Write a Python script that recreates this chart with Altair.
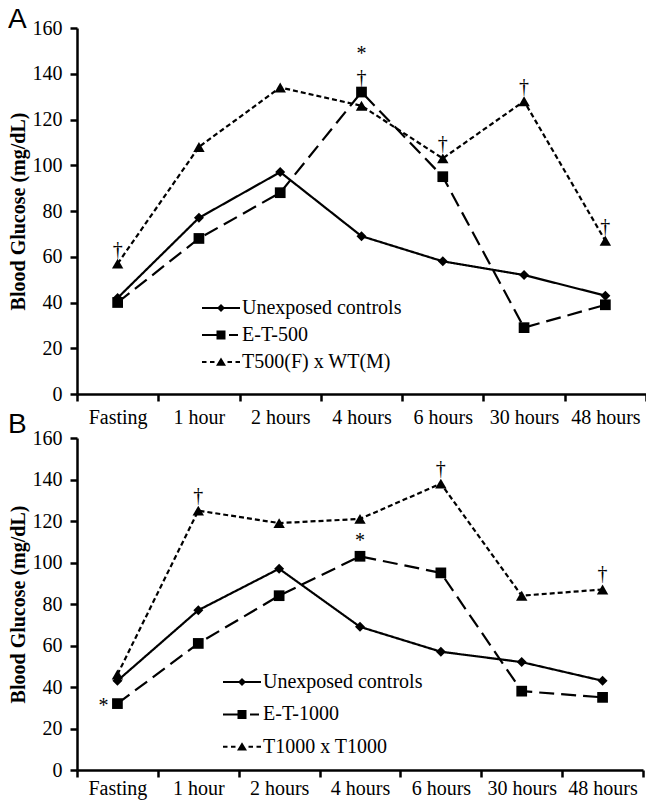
import altair as alt
import pandas as pd

times = ["Fasting", "1 hour", "2 hours", "4 hours", "6 hours", "30 hours", "48 hours"]

# Panel A
a_series = ["Unexposed controls", "E-T-500", "T500(F) x WT(M)"]
a_unexposed = [42, 77, 97, 69, 58, 52, 43]
a_et500 = [40, 68, 88, 132, 95, 29, 39]
a_t500 = [57, 108, 134, 126, 103, 128, 67]
a_dagger_times = ["Fasting", "4 hours", "6 hours", "30 hours", "48 hours"]
a_dagger_values = [57, 132, 103, 128, 67]
a_star_times = ["4 hours"]
a_star_values = [132]

# Panel B
b_series = ["Unexposed controls", "E-T-1000", "T1000 x T1000"]
b_unexposed = [43, 77, 97, 69, 57, 52, 43]
b_et1000 = [32, 61, 84, 103, 95, 38, 35]
b_t1000 = [46, 125, 119, 121, 138, 84, 87]
b_dagger_times = ["1 hour", "6 hours", "48 hours"]
b_dagger_values = [125, 138, 87]
b_star_top_times = ["4 hours"]
b_star_top_values = [103]
b_star_left_times = ["Fasting"]
b_star_left_values = [32]

y_ticks = [0, 20, 40, 60, 80, 100, 120, 140, 160]

SERIF = "Liberation Serif"
SANS = "Liberation Sans"

marker_shapes = ["diamond", "square", "triangle-up"]
marker_sizes = [100, 130, 150]
dashes = [[1, 0], [15, 7], [5, 3]]

# legend glyphs: line pieces drawn as thin filled bars + marker (fill only)
legend_paths = [
    "M-3.8,-0.2H3.8V0.2H-3.8Z M-0.8,0L0,-0.8L0.8,0L0,0.8Z",
    "M-3.8,-0.2H-0.9V0.2H-3.8Z M1.6,-0.2H3.4V0.2H1.6Z M-0.9,-0.9H0.9V0.9H-0.9Z",
    "M-3.8,-0.2H-2.9V0.2H-3.8Z M-2.2,-0.2H-1.3V0.2H-2.2Z M1.3,-0.2H2.2V0.2H1.3Z "
    "M2.9,-0.2H3.8V0.2H2.9Z M0,-0.9L1,0.75L-1,0.75Z",
]


def long_table(series, columns):
    rows = []
    for name, vals in zip(series, columns):
        for t, v in zip(times, vals):
            rows.append({"time": t, "series": name, "value": v})
    return pd.DataFrame(rows)


def annot(tlist, vlist, sym):
    return pd.DataFrame({"time": tlist, "value": vlist, "sym": [sym] * len(tlist)})


def panel(series, columns, annots, width, height, label, title_dy, leg_x, leg_y, leg_pad, xlab_pad):
    df = long_table(series, columns)
    x = alt.X(
        "time:N",
        sort=times,
        scale=alt.Scale(type="band", domain=times, paddingInner=0, paddingOuter=0),
        bandPosition=0.5,
        axis=alt.Axis(title=None, tickBand="extent", labelAngle=0, labelPadding=xlab_pad),
    )
    y = alt.Y(
        "value:Q",
        scale=alt.Scale(domain=[0, 160], nice=False),
        axis=alt.Axis(values=y_ticks, title="Blood Glucose (mg/dL)", labelPadding=8, titlePadding=4),
    )
    lines = alt.Chart(df).mark_line(color="black", strokeWidth=2.2).encode(
        x=x,
        y=y,
        strokeDash=alt.StrokeDash("series:N", scale=alt.Scale(domain=series, range=dashes), legend=None),
    )
    points = alt.Chart(df).mark_point(filled=True, color="black", opacity=1).encode(
        x=x,
        y=y,
        shape=alt.Shape("series:N", scale=alt.Scale(domain=series, range=marker_shapes), legend=None),
        size=alt.Size("series:O", scale=alt.Scale(domain=series, range=marker_sizes), legend=None),
    )
    legend_layer = alt.Chart(df).mark_point(filled=True, color="black", opacity=0).encode(
        x=x,
        y=y,
        shape=alt.Shape(
            "series:N",
            scale=alt.Scale(domain=series, range=legend_paths),
            legend=alt.Legend(
                title=None,
                orient="none",
                legendX=leg_x,
                legendY=leg_y,
                padding=0,
                symbolSize=100,
                symbolStrokeWidth=0,
                symbolOpacity=1,
                symbolFillColor="black",
                labelFont=SERIF,
                labelFontSize=20,
                labelColor="black",
                labelOffset=11,
                rowPadding=leg_pad,
                labelLimit=400,
            ),
        ),
    )
    layers = [lines, points]
    for tl, vl, sym, dx, dy in annots:
        layers.append(
            alt.Chart(annot(tl, vl, sym)).mark_text(
                font=SERIF, fontSize=20, color="black", dx=dx, dy=dy, baseline="middle"
            ).encode(x=x, y=y, text="sym:N")
        )
    layers.append(legend_layer)
    return alt.layer(*layers).resolve_scale(shape="independent").properties(
        width=width,
        height=height,
        title=alt.TitleParams(
            label, anchor="start", frame="bounds", font=SANS, fontSize=28,
            fontWeight="normal", color="black", offset=0, dy=title_dy, baseline="bottom",
        ),
    )


panel_a = panel(
    a_series,
    [a_unexposed, a_et500, a_t500],
    [
        (a_dagger_times, a_dagger_values, "†", 0, -14),
        (a_star_times, a_star_values, "*", 0, -38),
    ],
    569, 366, "A", 44, 134, 270, 7, 6,
)
panel_b = panel(
    b_series,
    [b_unexposed, b_et1000, b_t1000],
    [
        (b_dagger_times, b_dagger_values, "†", 0, -15),
        (b_star_top_times, b_star_top_values, "*", 0, -15),
        (b_star_left_times, b_star_left_values, "*", -14, 2),
    ],
    566, 332, "B", 39, 155, 234, 12.4, 1,
)

chart = alt.vconcat(panel_a, panel_b, spacing=44, bounds="flush").resolve_scale(
    shape="independent", strokeDash="independent", size="independent"
).properties(padding={"left": 0, "right": -2, "top": -2, "bottom": 2}).configure_view(
    stroke=None
).configure_axis(
    labelFont=SERIF,
    labelFontSize=20,
    labelColor="black",
    titleFont=SERIF,
    titleFontSize=20,
    titleFontWeight="bold",
    titleColor="black",
    domainColor="black",
    domainWidth=2.5,
    tickColor="black",
    tickWidth=2.5,
    tickSize=7,
    grid=False,
)

chart.save("out.html", embed_options={"renderer": "svg", "actions": False})
